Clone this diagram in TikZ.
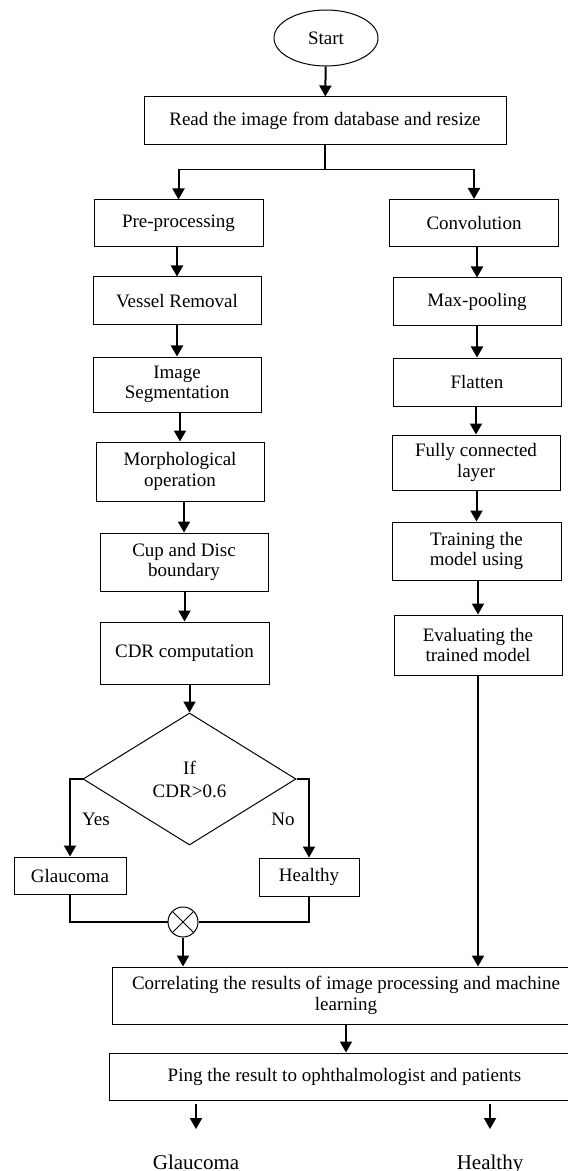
\documentclass[tikz,border=0pt]{standalone}
\usepackage{fontspec}
\setmainfont{Liberation Serif}
\usetikzlibrary{arrows.meta,shapes.geometric,positioning}

\begin{document}
\begin{tikzpicture}[x=0.5pt,y=-0.5pt]
\tikzset{
  procbox/.style={rectangle,draw=black,line width=0.5pt,inner sep=1pt,align=center,font=\fontsize{9.5}{10.2}\selectfont},
  termnode/.style={ellipse,draw=black,line width=0.5pt,inner sep=0pt,minimum width=52pt,minimum height=28pt,font=\fontsize{9.5}{10.2}\selectfont},
  decnode/.style={diamond,draw=black,line width=0.5pt,inner sep=0pt,aspect=1.6,minimum width=106.5pt,minimum height=66pt,align=center,font=\fontsize{9.5}{11.5}\selectfont},
  joinnode/.style={circle,draw=black,line width=0.5pt,minimum size=15pt,inner sep=0pt,
    path picture={\draw[line width=0.5pt] (path picture bounding box.north west) -- (path picture bounding box.south east)
      (path picture bounding box.south west) -- (path picture bounding box.north east);}},
  plaintext/.style={inner sep=0pt,font=\fontsize{9.5}{10.2}\selectfont},
  outtext/.style={inner sep=0pt,font=\fontsize{10.5}{11}\selectfont},
  flowedge/.style={draw=black,line width=0.6pt},
  flowarrow/.style={draw=black,line width=1pt,-{Triangle[length=5.5pt,width=6pt]}}
}
\useasboundingbox (0,0) rectangle (567,1171);
\node[termnode] (start) at (326,38) {Start};
\node[procbox,minimum width=181pt,minimum height=24pt] (read) at (325,121) {Read the image from database and resize};
\coordinate[below=12pt of read] (split);
% image processing branch
\node[procbox,minimum width=84.5pt,minimum height=23.5pt] (pre) at (178.5,223.5) {Pre-processing};
\node[procbox,minimum width=84pt,minimum height=24pt] (vessel) at (177,301) {Vessel Removal};
\node[procbox,minimum width=84pt,minimum height=27.5pt] (segm) at (177,384.5) {Image\\Segmentation};
\node[procbox,minimum width=84pt,minimum height=29.5pt] (morph) at (180,471.5) {Morphological\\operation};
\node[procbox,minimum width=84pt,minimum height=29pt] (cup) at (184,562) {Cup and Disc\\boundary};
\node[procbox,minimum width=84.5pt,minimum height=31pt] (cdr) at (184.5,653) {CDR computation};
\node[decnode] (dia) at (189.5,779) {If\\CDR>0.6};
\node[procbox,minimum width=56pt,minimum height=18.5pt] (glau) at (70,875.5) {Glaucoma};
\node[procbox,minimum width=50pt,minimum height=19pt] (heal) at (309,877) {Healthy};
\node[joinnode] (join) at (183,922) {};
\node[plaintext] (lyes) at (96,819) {Yes};
\node[plaintext] (lno) at (283,819) {No};
% machine learning branch
\node[procbox,minimum width=84.5pt,minimum height=23.5pt] (conv) at (474,223) {Convolution};
\node[procbox,minimum width=84pt,minimum height=24pt] (maxp) at (477,302) {Max-pooling};
\node[procbox,minimum width=84pt,minimum height=24pt] (flat) at (477,382) {Flatten};
\node[procbox,minimum width=84pt,minimum height=27.5pt] (fully) at (476,462.5) {Fully connected\\layer};
\node[procbox,minimum width=84.5pt,minimum height=29pt] (train) at (476.5,551) {Training the\\model using};
\node[procbox,minimum width=84pt,minimum height=30pt] (eval) at (478,645) {Evaluating the\\trained model};
% results
\node[procbox,minimum width=234pt,minimum height=28.5pt] (corr) at (346,995.5) {Correlating the results of image processing and machine\\learning};
\node[procbox,minimum width=235.5pt,minimum height=23.5pt] (ping) at (344.5,1076.5) {Ping the result to ophthalmologist and patients};
\node[outtext,anchor=base] (outg) at (196,1169) {Glaucoma};
\node[outtext,anchor=base] (outh) at (490,1169) {Healthy};

\draw[flowarrow] (start) -- (read);
\draw[flowedge] (read.south) -- (split);
\draw[flowedge] (split -| pre.north) -- (split -| conv.north);
\draw[flowarrow] (split -| pre.north) -- (pre.north);
\draw[flowarrow] (split -| conv.north) -- (conv.north);
\draw[flowarrow] (pre.south -| vessel.north) -- (vessel.north);
\draw[flowarrow] (vessel.south -| segm.north) -- (segm.north);
\draw[flowarrow] (segm.south -| morph.north) -- (morph.north);
\draw[flowarrow] (morph.south -| cup.north) -- (cup.north);
\draw[flowarrow] (cup.south -| cdr.north) -- (cdr.north);
\draw[flowarrow] (cdr.south -| dia.north) -- (dia.north);
\draw[flowarrow] (dia.west) -| (glau.north);
\draw[flowarrow] (dia.east) -| (heal.north);
\draw[flowedge] (glau.south) |- (join.west);
\draw[flowedge] (heal.south) |- (join.east);
\draw[flowarrow] (conv.south -| maxp.north) -- (maxp.north);
\draw[flowarrow] (maxp.south) -- (flat.north);
\draw[flowarrow] (flat.south -| fully.north) -- (fully.north);
\draw[flowarrow] (fully.south -| train.north) -- (train.north);
\draw[flowarrow] (train.south -| eval.north) -- (eval.north);
\draw[flowarrow] (join.south) -- (join.south |- corr.north);
\draw[flowarrow] (eval.south) -- (eval.south |- corr.north);
\draw[flowarrow] (corr.south) -- (corr.south |- ping.north);
\draw[flowarrow,shorten <=1.5pt,shorten >=12.5pt] (outg |- ping.south) -- (outg.north);
\draw[flowarrow,shorten <=1.5pt,shorten >=12.5pt] (outh |- ping.south) -- (outh.north);
\end{tikzpicture}
\end{document}
